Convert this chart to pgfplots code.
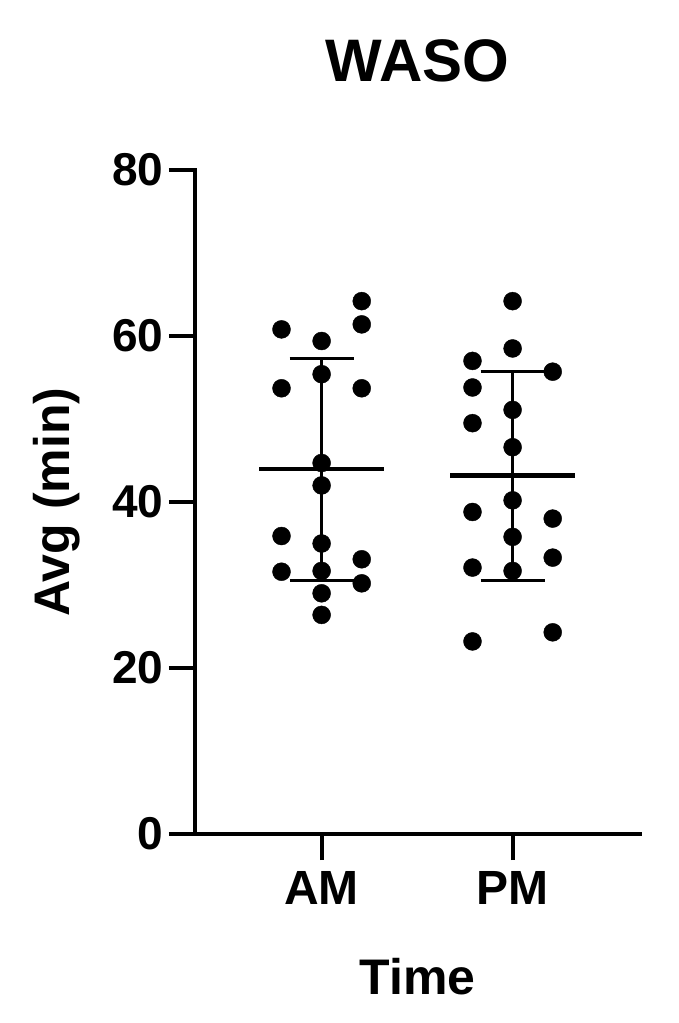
\documentclass[border=0pt]{standalone}
\usepackage{pgfplots}
\pgfplotsset{compat=1.18}
\usepackage{fontspec}
\setmainfont{Liberation Sans}
\begin{document}
\begin{tikzpicture}
\useasboundingbox (0,0) rectangle (678pt,1023pt);
\begin{axis}[
  at={(195pt,189pt)}, anchor=south west,
  scale only axis, width=445pt, height=664pt,
  xmin=0.337, xmax=2.667, ymin=0, ymax=80,
  axis x line=bottom, axis y line=left,
  axis line style={-, line width=4.5pt, line cap=rect},
  xtick={1,2}, xticklabels={AM,PM}, ytick={0,20,40,60,80},
  tick align=outside, major tick length=26pt,
  tick style={line width=4pt, black},
  yticklabel style={font=\fontsize{46}{50}\selectfont\bfseries, xshift=-2pt},
  xticklabel style={font=\fontsize{48}{52}\selectfont\bfseries, yshift=-8pt},
  /pgf/number format/assume math mode=true,
  title={WASO},
  title style={font=\fontsize{60}{64}\selectfont\bfseries, at={(axis description cs:0.5,1.155)}, anchor=center},
  xlabel={Time},
  xlabel style={font=\fontsize{50}{54}\selectfont\bfseries, at={(axis description cs:0.5,-0.215)}, anchor=center},
  ylabel={Avg (min)},
  ylabel style={font=\fontsize{50}{54}\selectfont\bfseries, at={(axis description cs:-0.31,0.5)}, anchor=center},
  clip=false,
]
% mean lines
\addplot[black, line width=4.5pt, no markers] coordinates {(0.673,44.0) (1.327,44.0)};
\addplot[black, line width=4.5pt, no markers] coordinates {(1.673,43.2) (2.327,43.2)};
% SD bars AM
\addplot[black, line width=3pt, no markers] coordinates {(1,30.6) (1,57.3)};
\addplot[black, line width=3pt, no markers] coordinates {(0.833,57.3) (1.167,57.3)};
\addplot[black, line width=3pt, no markers] coordinates {(0.833,30.6) (1.167,30.6)};
% SD bars PM
\addplot[black, line width=3pt, no markers] coordinates {(2,30.6) (2,55.7)};
\addplot[black, line width=3pt, no markers] coordinates {(1.833,55.7) (2.167,55.7)};
\addplot[black, line width=3pt, no markers] coordinates {(1.833,30.6) (2.167,30.6)};
% AM points
\addplot[only marks, mark=*, mark size=9pt, black] coordinates {
 (1.21,64.2) (1.21,61.4) (0.79,60.8) (1.0,59.4) (1.0,55.4) (0.79,53.7) (1.21,53.7)
 (1.0,44.7) (1.0,42.0) (0.79,35.9) (1.0,35.0) (1.21,33.1) (0.79,31.6) (1.0,31.7)
 (1.21,30.2) (1.0,29.0) (1.0,26.4)};
% PM points
\addplot[only marks, mark=*, mark size=9pt, black] coordinates {
 (2.0,64.2) (2.0,58.5) (1.79,57.0) (2.21,55.7) (1.79,53.8) (2.0,51.1) (1.79,49.5)
 (2.0,46.6) (2.0,40.2) (1.79,38.8) (2.21,38.0) (2.0,35.8) (2.21,33.3) (1.79,32.1)
 (2.0,31.7) (1.79,23.2) (2.21,24.3)};
\end{axis}
\end{tikzpicture}
\end{document}
